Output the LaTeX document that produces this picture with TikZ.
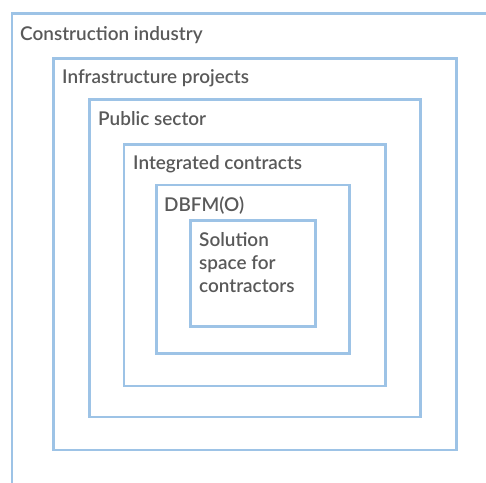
\documentclass[tikz,border=0pt]{standalone}
\usepackage{fontspec}
\setmainfont{Lato}[UprightFont={* Semibold}]
\definecolor{frameblue}{HTML}{9DC3E6}
\definecolor{labelgray}{HTML}{595959}
\tikzset{
  box/.style={draw=frameblue,line width=2.6bp},
  lbl/.style={anchor=base west,inner sep=0pt,text=labelgray,font=\fontsize{19}{23.4}\selectfont},
}

\begin{document}
\begin{tikzpicture}[x=1bp,y=-1bp,line join=miter]
  \useasboundingbox (0,0) rectangle (486,483);
  % outer frame runs off the page to the right and bottom
  \draw[box] (486,13.5) -- (12,13.5) -- (12,483);
  \node[lbl] (industry) at (20,41) {Construction industry};

  % nested frames
  \draw[box] (53.5,58.5) rectangle (456.5,450);
  \node[lbl] (infra) at (62,84) {Infrastructure projects};
  \draw[box] (89.5,99.5) rectangle (420.5,417);
  \node[lbl] (public) at (98,126) {Public sector};
  \draw[box] (124,144.5) rectangle (385.5,386);
  \node[lbl] (integrated) at (133,170) {Integrated contracts};
  \draw[box] (156.5,185) rectangle (349.5,353.5);
  \node[lbl] (dbfm) at (164,211) {DBFM(O)};
  \draw[box] (190.5,220.5) rectangle (315.5,326.5);
  \node[lbl,align=left,anchor=north west] (space) at (199,232) {Solution\\space for\\contractors};
\end{tikzpicture}
\end{document}
